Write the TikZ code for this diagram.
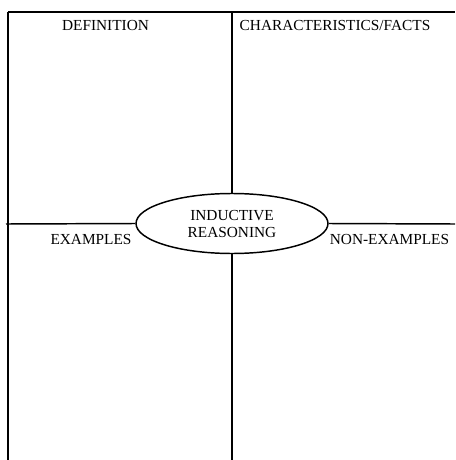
\documentclass[tikz,border=0pt]{standalone}
\usepackage{fontspec}
\setmainfont{Liberation Serif}
\usetikzlibrary{shapes.geometric}
\begin{document}
\begin{tikzpicture}[x=0.75pt,y=-0.75pt,
  rule/.style={line width=1.1pt,black},
  label/.style={font=\fontsize{11.5}{12.75}\selectfont,inner sep=0pt,anchor=base},
  hub/.style={ellipse,draw,line width=1.1pt,minimum width=192*0.75pt,minimum height=60*0.75pt,inner sep=0pt}]
  \useasboundingbox (0,0) rectangle (455,460);
  % frame corners and free ends of the rules
  \coordinate (tl) at (8,12);
  \coordinate (tr) at (455,12);
  \coordinate (bl) at (8,460);
  \coordinate (topmid) at (232,12);
  \coordinate (botmid) at (232,460);
  \coordinate (leftmid) at (6,224);
  \coordinate (rightmid) at (455,224);
  % central ellipse
  \node[hub] (core) at (232,223.5) {};
  \node[label] (t1) at (232,220) {INDUCTIVE};
  \node[label] (t2) at (232,237) {REASONING};
  % rules
  \draw[rule] (tl) -- (tr);
  \draw[rule] (tl) -- (bl);
  \draw[rule] (topmid) -- (core.north);
  \draw[rule] (core.south) -- (botmid);
  \draw[rule] (leftmid) -- (core.west);
  \draw[rule] (core.east) -- (rightmid);
  % quadrant headings
  \node[label] (def) at (105.5,31) {DEFINITION};
  \node[label] (chr) at (335,31) {CHARACTERISTICS/FACTS};
  \node[label] (ex) at (91,244) {EXAMPLES};
  \node[label] (nex) at (389.5,244) {NON-EXAMPLES};
\end{tikzpicture}
\end{document}
